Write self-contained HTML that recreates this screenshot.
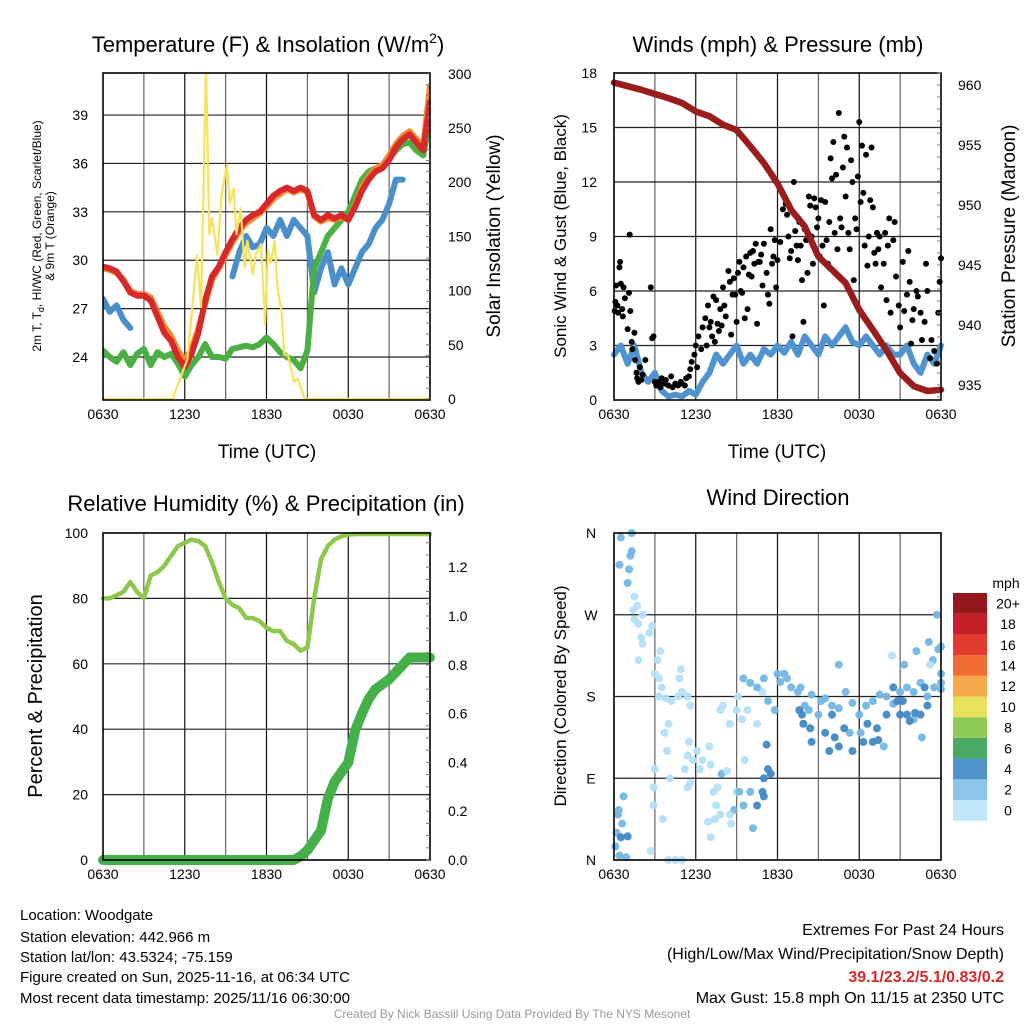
<!DOCTYPE html>
<html><head><meta charset="utf-8">
<style>
html,body{margin:0;padding:0;background:#fff;}
svg{display:block;font-family:"Liberation Sans",Arial,sans-serif;}
</style></head>
<body>
<svg id="chart" width="1024" height="1024" viewBox="0 0 1024 1024" xmlns="http://www.w3.org/2000/svg">
<rect x="0" y="0" width="1024" height="1024" fill="#fff"/>
<g id="grids"></g>
<g id="marks"></g>
<g id="frames"></g>
<g id="labels"></g>
<text x="268" y="52" font-size="22" text-anchor="middle">Temperature (F) &amp; Insolation (W/m<tspan font-size="14" dy="-9">2</tspan><tspan dy="9">)</tspan></text>
<text x="778" y="52" font-size="22" text-anchor="middle">Winds (mph) &amp; Pressure (mb)</text>
<text x="266" y="511" font-size="22" text-anchor="middle">Relative Humidity (%) &amp; Precipitation (in)</text>
<text x="778" y="505" font-size="22" text-anchor="middle">Wind Direction</text>
<text transform="translate(41,236) rotate(-90)" font-size="12" text-anchor="middle">2m T, T<tspan font-size="9" dy="3">d</tspan><tspan dy="-3">, HI/WC (Red, Green, Scarlet/Blue)</tspan></text>
<text transform="translate(54,236) rotate(-90)" font-size="12" text-anchor="middle">&amp; 9m T (Orange)</text>
<text transform="translate(500,236) rotate(-90)" font-size="19" text-anchor="middle">Solar Insolation (Yellow)</text>
<text x="267" y="458" font-size="19" text-anchor="middle">Time (UTC)</text>
<text transform="translate(566,236) rotate(-90)" font-size="17" text-anchor="middle">Sonic Wind &amp; Gust (Blue, Black)</text>
<text transform="translate(1015,236) rotate(-90)" font-size="19" text-anchor="middle">Station Pressure (Maroon)</text>
<text x="777" y="458" font-size="19" text-anchor="middle">Time (UTC)</text>
<text transform="translate(42,696) rotate(-90)" font-size="20" text-anchor="middle">Percent &amp; Precipitation</text>
<text transform="translate(566,696) rotate(-90)" font-size="17" text-anchor="middle">Direction (Colored By Speed)</text>
<text x="1006" y="588" font-size="14" text-anchor="middle">mph</text>
<g font-size="15">
<text x="20" y="920">Location: Woodgate</text>
<text x="20" y="942">Station elevation: 442.966 m</text>
<text x="20" y="962">Station lat/lon: 43.5324; -75.159</text>
<text x="20" y="982">Figure created on Sun, 2025-11-16, at 06:34 UTC</text>
<text x="20" y="1003">Most recent data timestamp: 2025/11/16 06:30:00</text>
</g>
<g font-size="16" text-anchor="end">
<text x="1004" y="935">Extremes For Past 24 Hours</text>
<text x="1004" y="959">(High/Low/Max Wind/Precipitation/Snow Depth)</text>
<text x="1004" y="982" fill="#d42a2a" font-weight="bold">39.1/23.2/5.1/0.83/0.2</text>
<text x="1004" y="1003">Max Gust: 15.8 mph On 11/15 at 2350 UTC</text>
</g>
<text x="512" y="1018" font-size="12" fill="#999" text-anchor="middle">Created By Nick Bassill Using Data Provided By The NYS Mesonet</text>
</svg>
<script>
// ---------- data ----------
const xTickLabels = ["0630","1230","1830","0030","0630"];
const xTickHours = [0,6,12,18,24];
const tempTicks = [24,27,30,33,36,39];
const solarTicks = [0,50,100,150,200,250,300];
const windTicks = [0,3,6,9,12,15,18];
const presTicks = [935,940,945,950,955,960];
const rhTicks = [0,20,40,60,80,100];
const precipTicks = [0,0.2,0.4,0.6,0.8,1.0,1.2];
const precipTickLabels = ["0.0","0.2","0.4","0.6","0.8","1.0","1.2"];
const dirTicks = [0,90,180,270,360];
const dirTickLabels = ["N","E","S","W","N"];

const tempT = [29.6,29.5,29.3,28.7,28.0,27.8,27.8,27.5,26.5,25.5,25.0,24.0,23.4,24.2,25.5,27.5,29.0,29.6,30.5,31.3,32.0,32.5,32.8,33.0,33.5,34.0,34.3,34.5,34.3,34.5,34.3,32.8,32.5,32.8,32.6,32.8,32.5,33.3,34.3,35.0,35.5,35.7,36.2,37.0,37.5,37.8,37.3,36.8,39.8];
const temp9m = [29.5,29.4,29.2,28.8,28.1,27.9,27.9,27.7,26.8,25.9,25.3,24.4,23.8,24.5,25.8,27.3,28.8,29.5,30.3,31.1,31.8,32.3,32.6,32.9,33.3,33.8,34.1,34.4,34.2,34.4,34.2,32.7,32.4,32.6,32.5,32.7,32.5,33.4,34.5,35.2,35.7,35.9,36.5,37.2,37.7,38.0,37.5,37.1,40.8];
const tempTd = [24.4,24.0,23.7,24.3,23.5,24.2,24.5,23.5,24.3,24.0,24.2,23.6,22.8,23.5,24.0,24.8,24.0,24.0,23.9,24.5,24.6,24.7,24.6,24.8,25.2,24.8,24.3,24.0,23.8,23.3,24.4,29.5,30.5,31.5,32.0,32.5,33.0,34.0,35.0,35.5,35.7,35.8,36.3,36.8,37.2,37.3,36.8,36.5,38.8];
const tempWC = [27.6,26.8,27.2,26.3,25.8,null,26.5,null,null,null,null,null,null,null,null,25.5,null,null,null,29.0,30.5,31.5,30.8,31.0,32.0,31.5,32.5,31.5,32.5,32.0,31.5,28.0,29.5,30.5,28.5,29.5,28.5,29.5,30.5,31.0,32.0,32.5,33.5,35.0,35.0,null,35.0,null,37.3];
const solarHours = [0,5.1,6.2,6.9,7.2,7.56,7.8,8.0,8.4,8.7,9.1,9.3,9.6,9.8,10.1,10.4,10.6,11.0,11.2,11.6,11.9,12.1,12.3,12.6,12.8,13.1,13.3,13.6,14.0,14.3,14.8,24];
const solarVals = [0,0,37,132,85,310,152,167,133,188,216,180,194,152,176,121,146,115,133,143,69,137,125,146,103,81,41,40,16,19,0,0];

const windVals = [2.5,3.0,2.0,3.0,1.5,1.0,1.5,0.5,0.2,0.3,0.2,0.5,0.3,1.0,1.5,2.5,2.0,2.5,3.0,2.0,2.5,2.0,2.8,2.5,3.0,2.6,3.2,2.5,3.5,3.0,2.5,3.5,3.0,3.5,4.0,3.2,3.0,3.5,3.0,2.5,3.0,2.5,2.5,3.0,2.0,1.5,2.5,2.0,3.0];
const pressureVals = [960.2,959.9,959.6,959.25,958.9,958.5,957.8,957.4,956.7,956.25,954.9,953.5,951.8,949.6,948.2,945.7,944.6,943.5,941.25,939.6,937.9,936.0,934.9,934.5,934.6];
const gustHours = [0.05,0.1,0.15,0.25,0.3,0.4,0.45,0.5,0.6,0.65,0.7,0.8,1.15,1.0,1.1,1.2,1.3,1.35,1.5,1.55,1.65,1.7,1.8,1.9,2.0,2.1,2.3,2.7,2.8,2.9,3.0,3.1,3.3,3.4,3.5,3.7,3.8,4.0,4.2,4.3,4.5,4.7,4.9,5.0,5.2,5.3,5.5,5.6,5.7,5.9,6.0,6.1,6.2,6.4,6.5,6.7,6.8,6.9,7.0,7.1,7.2,7.3,7.4,7.5,7.6,7.7,7.8,7.9,8.0,8.1,8.2,8.4,8.5,8.6,8.7,8.8,8.9,9.0,9.1,9.2,9.3,9.4,9.5,9.6,9.7,9.8,9.9,10.0,10.1,10.2,10.3,10.4,10.5,10.6,10.7,10.8,10.9,11.0,11.2,11.3,11.4,11.5,11.6,11.7,11.8,11.9,12.0,12.2,12.4,12.6,12.7,12.8,12.9,13.0,13.1,13.2,13.3,13.4,13.5,13.6,13.7,13.8,13.9,14.0,14.1,14.2,14.3,14.4,14.5,14.6,14.7,14.8,14.9,15.0,15.1,15.2,15.3,15.4,15.5,15.6,15.7,15.8,15.9,16.0,16.1,16.2,16.3,16.4,16.5,16.6,16.7,16.8,16.9,17.0,17.1,17.2,17.3,17.4,17.5,17.6,17.7,17.8,17.9,18.0,18.1,18.2,18.3,18.4,18.5,18.6,18.7,18.8,18.9,19.0,19.1,19.2,19.3,19.4,19.5,19.6,19.8,19.9,20.0,20.1,20.2,20.3,20.5,20.6,20.7,20.9,21.0,21.2,21.3,21.5,21.6,21.7,21.8,21.9,22.0,22.2,22.3,22.5,22.6,22.8,22.9,23.0,23.2,23.3,23.5,23.7,23.8,23.9,24.0];
const gustVals = [4.9,5.4,6.3,5.2,4.8,7.3,7.6,6.4,5.0,4.6,6.2,5.6,9.1,3.9,5.9,4.9,3.2,2.8,3.7,2.2,1.5,1.2,1.0,1.8,1.1,1.4,2.2,6.2,3.4,3.5,1.0,0.8,1.0,0.7,1.2,0.9,1.1,0.8,1.3,0.7,0.9,0.8,1.0,0.9,0.8,1.2,1.3,1.7,2.1,2.5,3.0,1.8,3.5,2.8,4.0,4.5,3.0,5.2,4.0,4.3,3.5,5.7,3.2,5.5,4.2,3.8,5.0,4.1,6.2,5.2,4.6,7.1,6.5,3.6,5.8,6.7,5.8,4.3,7.0,7.6,6.0,5.9,7.3,4.5,7.9,5.0,6.9,8.1,6.8,8.2,7.5,8.6,4.2,7.6,7.6,8.0,6.3,8.6,7.0,5.8,5.3,9.4,7.5,7.9,8.8,6.2,7.7,8.7,10.5,10.8,10.2,9.0,7.8,8.2,3.5,12.0,9.3,8.5,7.7,9.8,8.5,6.6,4.3,9.4,8.8,7.0,11.2,10.7,9.0,7.5,11.1,10.6,9.5,10.0,7.9,11.0,8.5,5.2,10.9,8.8,7.5,9.8,13.3,12.2,14.2,9.2,12.4,8.3,15.8,10.0,9.5,12.8,14.5,11.2,13.9,9.2,8.3,13.2,12.0,6.6,10.0,9.4,12.3,15.3,10.9,14.0,11.4,8.5,13.5,7.4,9.0,11.0,13.9,10.6,8.1,7.5,9.2,8.3,9.0,6.2,7.5,9.2,5.5,8.5,10.0,4.8,8.8,9.8,6.8,5.2,4.0,7.6,4.9,5.8,8.2,6.5,3.1,4.4,5.0,6.0,5.7,4.8,3.3,4.3,7.5,6.0,2.3,3.3,2.7,2.0,4.8,6.5,7.8];

const rhVals = [80,80,81,82,85,82,80,87,88,90,93,96,97,98,97.5,96,91,85,80,78,77,74,74,73,71,70,70,67,66,64,65,80,92,96,98,99,99.5,99.7,99.7,99.7,99.7,99.7,99.7,99.7,99.7,99.7,99.7,99.7,99.7];
const precipHours = [0,14,14.5,15,15.5,16,16.5,17,17.5,18,18.5,19,19.5,20,20.5,21,21.5,22,22.5,23,24];
const precipVals = [0,0,0.015,0.04,0.08,0.12,0.25,0.32,0.36,0.4,0.53,0.6,0.66,0.7,0.72,0.74,0.77,0.8,0.83,0.83,0.83];

const dirHours = [0.1,0.2,0.3,0.35,0.4,0.5,0.6,0.7,0.9,1.0,0.5,1.3,0.4,1.2,1.3,1.1,1.0,1.5,1.7,1.4,1.5,2.1,1.8,2.6,2.8,2.0,2.1,1.8,3.4,3.0,3.3,3.2,3.5,3.3,4.7,3.8,4.9,5.4,4.2,4.8,5.0,5.6,3.7,4.0,5.5,3.9,6.1,5.4,5.2,5.8,6.5,7.0,7.1,6.3,5.6,5.4,7.5,7.3,7.4,2.9,4.1,2.9,3.0,3.6,2.7,4.5,4.0,5.0,7.8,8.5,8.0,9.0,9.4,9.1,9.8,10.5,10.9,9.5,10.0,10.5,11.3,11.8,11.0,12.5,12.2,12.0,13.7,13.0,13.5,14.0,14.3,14.5,15.0,15.2,15.5,16.0,16.5,17.0,17.5,18.0,18.5,19.0,19.5,20.0,20.5,21.0,21.5,22.0,22.5,23.0,23.5,24.0,24.0,23.4,22.2,23.1,23.7,23.8,24.0,24.0,23.2,20.4,21.3,16.5,17.3,18.1,19.8,22.0,22.6,12.7,13.6,13.9,14.5,14.4,15.5,15.8,16.2,16.5,16.9,17.5,18.3,18.6,19.0,19.4,20.0,20.5,21.2,21.5,21.7,22.1,22.5,22.8,23.0,20.8,21.0,19.3,16.0,13.8,11.2,11.5,11.3,11.0,11.0,10.9,10.5,10.2,10.0,9.5,8.8,8.5,9.0,7.8,7.1,6.9,7.6,8.6,9.2,7.9,8.3,9.6];
const dirDeg = [15,30,50,55,5,25,40,70,3,26,355,360,325,335,340,320,305,290,280,275,265,270,260,250,258,245,238,220,230,205,200,220,190,180,180,178,210,180,175,200,185,170,140,150,130,120,120,115,100,110,110,125,105,100,85,80,60,75,45,60,90,80,100,45,10,0,0,0,165,150,170,165,155,180,165,150,185,200,195,190,175,165,200,205,196,205,190,190,185,170,165,182,160,175,178,170,167,185,173,160,170,175,182,180,172,185,190,185,195,180,190,195,205,220,230,240,270,232,235,188,215,225,215,215,140,140,125,155,135,200,165,150,130,145,140,120,135,125,145,120,130,150,130,132,160,190,175,160,153,162,160,190,170,175,160,145,160,160,127,95,100,70,90,75,60,35,75,60,55,50,75,50,25,42,80,40,75,95,98,110];
const dirSpeed = [3,3,3,2.5,3,4,3,3,3,4,3,3,3,3,3,3,3,2,1,1,1,1,1,1,1,1,1,1,1,1,1,1,1,1,1,1,1,1,1,1,1,1,1,1,1,1,1,1,1,1,1,1,1,1,1,1,1,1,1,1,1,2,2,2,2,1,1,1,1.5,1,1,1,1,1,1,1.5,1.5,3,3,3,3,3,3,3,3,3,3,3,3,3,3,3,3,3,3,3,3,3,3,3,3,3,3,3,3,3,3,3,3,3,3,3,3,3,3,3,3,3,3,3,1,1,3,3,3,3,3,3,3,3,5,5,5,5,5,5,5,5,5,5,5,5,5,5,5,5,5,5,5,5,5,5,5,5,5,5,5,5,5,5,4,4,4,4,4,3,3,3,3,2,2,2,2,1,1,2,3,3,1,1,1];

const cbLabels = ["0","2","4","6","8","10","12","14","16","18","20+"];
const cbColors = ["#bfe5f8","#8ec5ea","#4f92cb","#4aa965","#8fca55","#e9e15c","#f6a94a","#ef6c33","#e23b2e","#c21f29","#94171b"];

// ---------- helpers ----------
const NS = "http://www.w3.org/2000/svg";
const G = id => document.getElementById(id);
function el(tag, attrs, parent){ const e=document.createElementNS(NS,tag); for(const k in attrs) e.setAttribute(k,attrs[k]); parent.appendChild(e); return e; }
const P1={x0:103,x1:430,y0:73,y1:400}, P2={x0:614,x1:941,y0:73,y1:400}, P3={x0:103,x1:430,y0:533,y1:860}, P4={x0:614,x1:941,y0:533,y1:860};
const tx = (P,h) => P.x0 + h*(P.x1-P.x0)/24;
const yTemp = v => 357 - (v-24)*16.13;
const ySolar = s => 399 - s*1.084;
const yWind = v => 400 - v*(327/18);
const yPres = p => 85 + (960-p)*12;
const yRH = v => 860 - v*3.27;
const yPrecip = v => 860 - v*(327/1.34);
const yDir = d => 860 - d*(327/360);

function pathFrom(hours, vals, P, yf){
  let d="", pen=false;
  for(let i=0;i<vals.length;i++){
    if(vals[i]===null){pen=false;continue;}
    d += (pen?"L":"M") + tx(P,hours[i]).toFixed(1)+","+yf(vals[i]).toFixed(1)+" ";
    pen=true;
  }
  return d;
}
const half = n => Array.from({length:n},(_,i)=>i*0.5);
const hourly = n => Array.from({length:n},(_,i)=>i);

// ---------- grids & frames ----------
function panelFrame(P, yVals, yf, name){
  const g=G("grids");
  for(let h=3;h<24;h+=3){
    const l=el("line",{x1:tx(P,h),x2:tx(P,h),y1:P.y0,y2:P.y1,stroke:(h%6==0?"#111":"#666"),"stroke-width":1.2},g);
    
    
  }
  yVals.forEach(v=>{
    const y=yf(v);
    if(y>P.y0+1 && y<P.y1-1){
      const l=el("line",{x1:P.x0,x2:P.x1,y1:y,y2:y,stroke:"#222","stroke-width":1.2},g);
      
      
    }
  });
  const r=el("rect",{x:P.x0,y:P.y0,width:P.x1-P.x0,height:P.y1-P.y0,fill:"none",stroke:"#000","stroke-width":1.6},G("frames"));
  
  
  xTickHours.forEach((h,i)=>{
    const t=el("text",{x:tx(P,h),y:P.y1+19,"font-size":14,"text-anchor":"middle"},G("labels"));
    t.textContent=xTickLabels[i];
    
    
  });
}
function yLabels(vals, texts, yf, x, anchor, name){
  vals.forEach((v,i)=>{
    const t=el("text",{x:x,y:yf(v)+5,"font-size":14,"text-anchor":anchor},G("labels"));
    t.textContent=texts?texts[i]:String(v);
    
    
  });
}
function minorTicks(x, from, to, step, yf, dir, len){
  for(let v=from; v<=to+1e-9; v+=step){
    const y=yf(v);
    const l=el("line",{x1:x,x2:x+dir*len,y1:y,y2:y,stroke:"#777","stroke-width":1},G("frames"));
    
    
  }
}

panelFrame(P1, tempTicks, yTemp, "temp");
panelFrame(P2, windTicks, yWind, "wind");
panelFrame(P3, rhTicks, yRH, "rh");
panelFrame(P4, dirTicks, yDir, "dir");
yLabels(tempTicks,null,yTemp,88,"end","temp-y-tick-label");
yLabels(solarTicks,null,ySolar,448,"start","solar-y-tick-label");
yLabels(windTicks,null,yWind,597,"end","wind-y-tick-label");
yLabels(presTicks,null,yPres,958,"start","pressure-y-tick-label");
yLabels(rhTicks,null,yRH,88,"end","rh-y-tick-label");
yLabels(precipTicks,precipTickLabels,yPrecip,448,"start","precip-y-tick-label");
yLabels(dirTicks,dirTickLabels,yDir,591,"middle","dir-y-tick-label");
minorTicks(430,0,300,10,ySolar,-1,4);
minorTicks(941,934,961,1,yPres,-1,4);
minorTicks(430,0,1.34,0.05,yPrecip,-1,4);

// ---------- panel 1 ----------
const M=G("marks");
function line(d,color,w,name){ const p=el("path",{d:d,fill:"none",stroke:color,"stroke-width":w,"stroke-linejoin":"round","stroke-linecap":"round"},M);   return p; }
const clip1=el("clipPath",{id:"c1"},M); el("rect",{x:P1.x0,y:P1.y0,width:327,height:327},clip1);
const g1=el("g",{"clip-path":"url(#c1)"},M);
function line1(d,color,w,name){ const p=line(d,color,w,name); g1.appendChild(p); }
const H49=half(49);
line1(pathFrom(H49,tempWC,P1,yTemp),"#4a8fc9",6,"heat-index-windchill-line");
line1(pathFrom(H49,tempTd,P1,yTemp),"#4bb043",6,"dewpoint-line");
line1(pathFrom(H49,temp9m,P1,yTemp),"#f38a30",6,"temp-9m-line");
line1(pathFrom(H49,tempT,P1,yTemp),"#d7282a",6,"temp-2m-line");
line1(pathFrom(solarHours,solarVals,P1,ySolar),"#f7e35a",2.2,"solar-insolation-line");

// ---------- panel 2 ----------
line(pathFrom(H49,windVals,P2,yWind),"#4f94d0",6,"sonic-wind-line");
gustVals.forEach((v,i)=>{
  const c=el("circle",{cx:tx(P2,gustHours[i]),cy:yWind(v),r:3,fill:"#000"},M);
  
  
});
line(pathFrom(hourly(25),pressureVals,P2,yPres),"#9b1c1c",6.5,"pressure-line");

// ---------- panel 3 ----------
line(pathFrom(H49,rhVals,P3,yRH),"#8cc84b",4.5,"relative-humidity-line");
line(pathFrom(precipHours,precipVals,P3,yPrecip),"#45b04a",10,"precipitation-line");

// ---------- panel 4 ----------
function dirColor(s){ return s<2.5?"#b3e0f7":(s<3.5?"#74b6e4":"#4189c6"); }
dirDeg.forEach((d,i)=>{
  const c=el("circle",{cx:tx(P4,dirHours[i]),cy:yDir(d),r:4,fill:dirColor(dirSpeed[i]),"fill-opacity":0.95},M);
  
  
});

// ---------- colorbar ----------
const cbTop=593, cbH=20.7;
cbLabels.forEach((lab,i)=>{
  const y=cbTop+(cbLabels.length-1-i)*cbH;
  const r=el("rect",{x:953,y:y,width:34,height:cbH,fill:cbColors[i]},G("labels"));
  
  
  const t=el("text",{x:1008,y:y+cbH/2+5,"font-size":14,"text-anchor":"middle"},G("labels"));
  t.textContent=lab;
  
  
});
</script>
</body></html>
